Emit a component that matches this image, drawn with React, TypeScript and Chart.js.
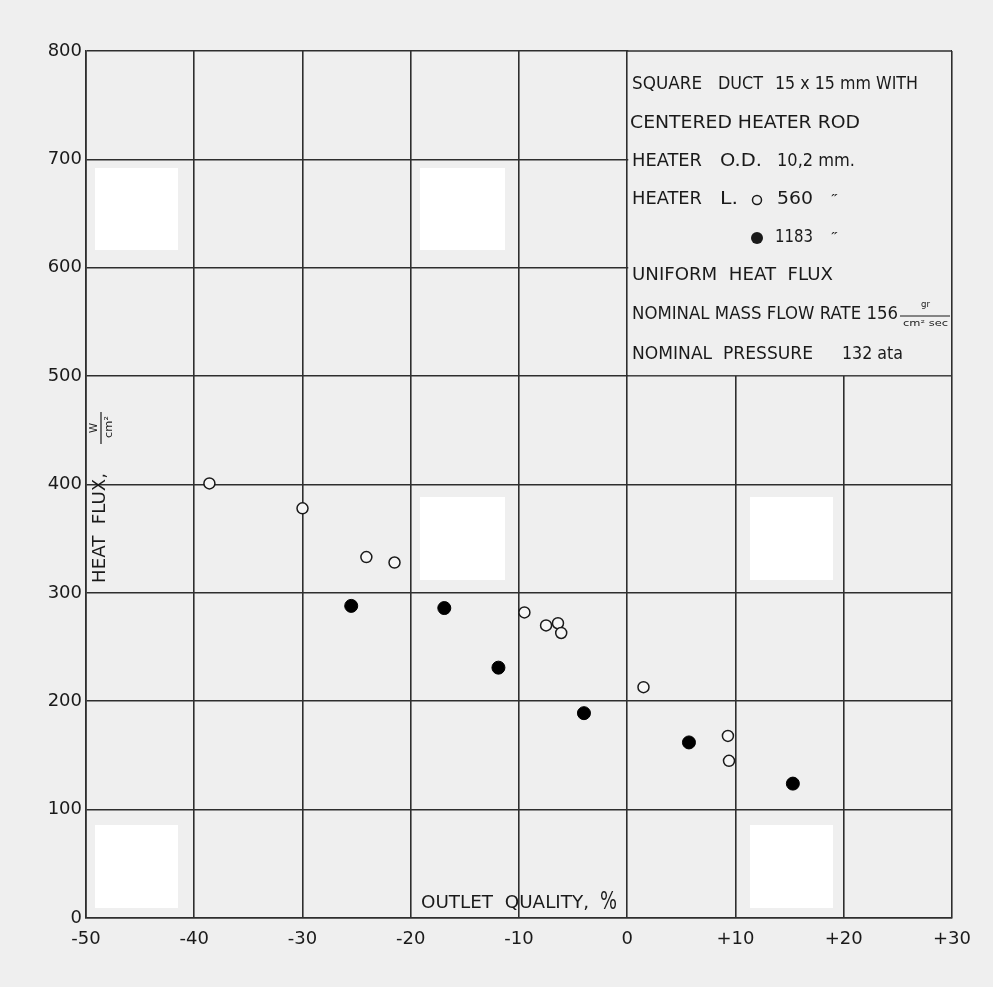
import React, { useEffect, useRef } from "react";
import { Chart, registerables } from "chart.js";

Chart.register(...registerables);

const openX = [-38.6, -30.0, -24.1, -21.5, -9.5, -7.5, -6.4, -6.1, 1.5, 9.3, 9.4];
const openY = [401, 378, 333, 328, 282, 270, 272, 263, 213, 168, 145];
const filledX = [-25.5, -16.9, -11.9, -4.0, 5.7, 15.3];
const filledY = [288, 286, 231, 189, 162, 124];

const xTicks = [-50, -40, -30, -20, -10, 0, 10, 20, 30];
const yTicks = [0, 100, 200, 300, 400, 500, 600, 700, 800];

const FONT = "DejaVu Sans";
const BG = "#efefef";
const INK = "#1a1a1a";
const GRID = "#2e2e2e";

function drawFit(ctx: CanvasRenderingContext2D, text: string, x0: number, x1: number, y: number, size: number) {
  ctx.save();
  ctx.font = `${size}px "${FONT}"`;
  ctx.textBaseline = "middle";
  ctx.textAlign = "left";
  const w = ctx.measureText(text).width;
  const s = (x1 - x0) / w;
  ctx.translate(x0, y);
  ctx.scale(s, 1);
  ctx.fillText(text, 0, 0);
  ctx.restore();
}

const decorPlugin = {
  id: "decor",
  beforeDraw(chart: any) {
    const ctx = chart.ctx as CanvasRenderingContext2D;
    ctx.save();
    ctx.fillStyle = BG;
    ctx.fillRect(0, 0, chart.width, chart.height);
    ctx.fillStyle = "#ffffff";
    const rects = [
      [95, 168, 83, 82],
      [420, 168, 85, 82],
      [420, 497, 85, 83],
      [750, 497, 83, 83],
      [95, 825, 83, 83],
      [750, 825, 83, 83],
    ];
    rects.forEach(([x, y, w, h]) => ctx.fillRect(x, y, w, h));
    ctx.restore();
  },
  beforeDatasetsDraw(chart: any) {
    const ctx = chart.ctx as CanvasRenderingContext2D;
    const xs = chart.scales.x;
    const ys = chart.scales.y;
    const bx0 = xs.getPixelForValue(0);
    const by1 = ys.getPixelForValue(500);
    const { right, top } = chart.chartArea;
    ctx.save();
    ctx.fillStyle = BG;
    ctx.fillRect(bx0 + 1, top - 6, right - bx0 - 2, by1 - top + 5);
    ctx.strokeStyle = GRID;
    ctx.lineWidth = 1.6;
    ctx.beginPath();
    ctx.moveTo(bx0, top);
    ctx.lineTo(right, top);
    ctx.stroke();

    ctx.fillStyle = INK;
    const sz = 17;
    drawFit(ctx, "SQUARE", 632, 702, 85, sz);
    drawFit(ctx, "DUCT", 718, 763, 85, sz);
    drawFit(ctx, "15 x 15 mm WITH", 775, 918, 85, sz);
    drawFit(ctx, "CENTERED HEATER ROD", 630, 860, 124, sz);
    drawFit(ctx, "HEATER", 632, 702, 162, sz);
    drawFit(ctx, "O.D.", 720, 762, 162, sz);
    drawFit(ctx, "10,2 mm.", 777, 855, 162, sz);
    drawFit(ctx, "HEATER", 632, 702, 200, sz);
    drawFit(ctx, "L.", 720, 738, 200, sz);
    drawFit(ctx, "560", 777, 813, 200, sz);
    drawFit(ctx, "\u2033", 831, 838, 200, 13);
    drawFit(ctx, "1183", 775, 813, 238, sz);
    drawFit(ctx, "\u2033", 831, 838, 238, 13);
    drawFit(ctx, "UNIFORM  HEAT  FLUX", 632, 833, 276, sz);
    drawFit(ctx, "NOMINAL MASS FLOW RATE 156", 632, 898, 315, sz);
    drawFit(ctx, "gr", 921, 930, 305, 9);
    drawFit(ctx, "cm\u00b2 sec", 903, 948, 324, 8);
    drawFit(ctx, "NOMINAL  PRESSURE", 632, 813, 355, sz);
    drawFit(ctx, "132 ata", 842, 903, 355, sz);
    ctx.strokeStyle = INK;
    ctx.lineWidth = 1.2;
    ctx.beginPath();
    ctx.moveTo(900, 316);
    ctx.lineTo(950, 316);
    ctx.stroke();
    ctx.lineWidth = 1.5;
    ctx.beginPath();
    ctx.arc(757, 200, 4.5, 0, Math.PI * 2);
    ctx.stroke();
    ctx.beginPath();
    ctx.arc(757, 238, 6, 0, Math.PI * 2);
    ctx.fill();

    // x title
    drawFit(ctx, "OUTLET  QUALITY,", 421, 589, 904, 17);
    drawFit(ctx, "%", 600, 617, 903, 24);

    // y title (rotated)
    ctx.translate(101, 528);
    ctx.rotate(-Math.PI / 2);
    drawFit(ctx, "HEAT  FLUX,", -55, 55, 0, 17);
    drawFit(ctx, "W", 95, 105, -7, 10);
    drawFit(ctx, "cm\u00b2", 90, 112, 8, 10);
    ctx.lineWidth = 1.2;
    ctx.beginPath();
    ctx.moveTo(84, 0);
    ctx.lineTo(116, 0);
    ctx.stroke();
    ctx.restore();
  },
};

export default function App() {
  const ref = useRef<HTMLCanvasElement>(null);
  useEffect(() => {
    if (!ref.current) return;
    const chart = new Chart(ref.current, {
      type: "scatter",
      data: {
        datasets: [
          {
            label: "560 mm",
            data: openX.map((x, i) => ({ x, y: openY[i] })),
            pointStyle: "circle",
            pointRadius: 5.5,
            pointBackgroundColor: "#f6f6f6",
            pointBorderColor: INK,
            pointBorderWidth: 1.5,
          },
          {
            label: "1183 mm",
            data: filledX.map((x, i) => ({ x, y: filledY[i] })),
            pointStyle: "circle",
            pointRadius: 6.5,
            pointBackgroundColor: "#000000",
            pointBorderColor: "#000000",
            pointBorderWidth: 1,
          },
        ],
      },
      options: {
        responsive: false,
        animation: false,
        devicePixelRatio: 1,
        layout: { padding: { top: 51, right: 41, left: 0, bottom: 0 } },
        plugins: { legend: { display: false }, tooltip: { enabled: false } },
        scales: {
          x: {
            type: "linear",
            min: -50,
            max: 30,
            afterFit: (s: any) => {
              s.height = 69;
            },
            afterBuildTicks: (s: any) => {
              s.ticks = xTicks.map((v) => ({ value: v }));
            },
            ticks: {
              padding: 11,
              color: INK,
              font: { family: FONT, size: 18 },
              maxRotation: 0,
              callback: (v: any) => (Number(v) > 0 ? "+" + v : String(v)),
            },
            grid: { color: GRID, lineWidth: 1.6, drawTicks: false },
            border: { color: GRID, width: 1.6 },
          },
          y: {
            type: "linear",
            min: 0,
            max: 800,
            afterFit: (s: any) => {
              s.width = 86;
            },
            afterBuildTicks: (s: any) => {
              s.ticks = yTicks.map((v) => ({ value: v }));
            },
            ticks: {
              padding: 4,
              color: INK,
              font: { family: FONT, size: 18 },
            },
            grid: { color: GRID, lineWidth: 1.6, drawTicks: false },
            border: { color: GRID, width: 1.6 },
          },
        },
      },
      plugins: [decorPlugin],
    } as any);
    return () => chart.destroy();
  }, []);
  return (
    <div style={{ position: "fixed", left: 0, top: 0, width: 993, height: 987, background: BG }}>
      <canvas ref={ref} width={993} height={987} style={{ display: "block" }} />
    </div>
  );
}
